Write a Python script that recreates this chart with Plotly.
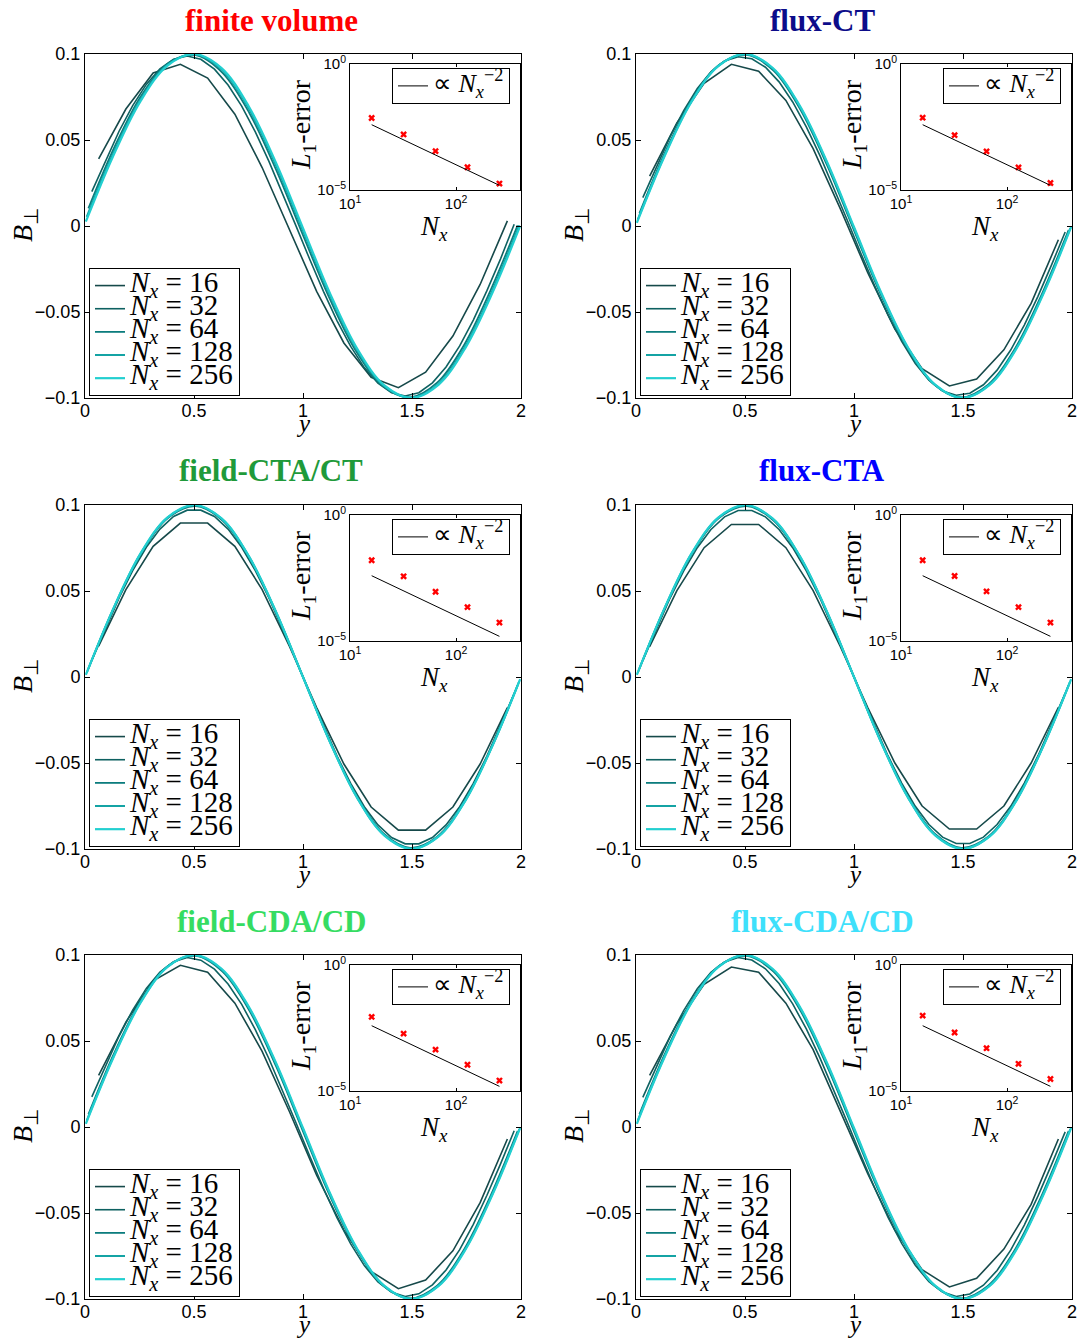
import numpy as np
import plotly.graph_objects as go

# ---------------------------------------------------------------- data
NX = [16, 32, 64, 128, 256]

X_TICKS = [0, 0.5, 1, 1.5, 2]
X_TICK_TEXT = ["0", "0.5", "1", "1.5", "2"]
Y_TICKS = [-0.1, -0.05, 0, 0.05, 0.1]
Y_TICK_TEXT = ["\u22120.1", "\u22120.05", "0", "0.05", "0.1"]

PANEL_TITLES = ["finite volume", "flux-CT", "field-CTA/CT",
                "flux-CTA", "field-CDA/CD", "flux-CDA/CD"]

# B_perp(y) profiles.  Nx = 16 and 32 are given at every cell centre;
# the finer runs are given as 17 samples spanning first to last cell centre.
FV_16 = [0.039, 0.068, 0.089, 0.094, 0.086, 0.065, 0.034, -0.002,
         -0.038, -0.068, -0.088, -0.094, -0.085, -0.064, -0.034, 0.003]
FV_32 = [0.0200, 0.0380, 0.0551, 0.0700, 0.0823, 0.0914, 0.0969, 0.0988,
         0.0969, 0.0912, 0.0820, 0.0697, 0.0547, 0.0376, 0.0191, -0.0002,
         -0.0195, -0.0380, -0.0551, -0.0700, -0.0823, -0.0914, -0.0969, -0.0988,
         -0.0969, -0.0912, -0.0820, -0.0697, -0.0547, -0.0376, -0.0191, 0.0010]
FV_64 = [0.0102, 0.0468, 0.0765, 0.0949, 0.0993, 0.0890, 0.0657, 0.0326, -0.0053,
         -0.0424, -0.0733, -0.0933, -0.0996, -0.0911, -0.0693, -0.0371, 0.0004]
FV_128 = [0.0053, 0.0428, 0.0738, 0.0939, 0.0998, 0.0908, 0.0682, 0.0353, -0.0028,
          -0.0405, -0.0722, -0.0930, -0.0999, -0.0918, -0.0700, -0.0376, 0.0004]
FV_256 = [0.0025, 0.0404, 0.0722, 0.0931, 0.1000, 0.0918, 0.0696, 0.0370, -0.0012,
          -0.0393, -0.0714, -0.0927, -0.1000, -0.0922, -0.0704, -0.0381, 0.0000]

CT_16 = [0.029, 0.060, 0.083, 0.094, 0.090, 0.073, 0.045, 0.010,
         -0.027, -0.060, -0.083, -0.093, -0.089, -0.072, -0.045, -0.008]
CT_32 = [0.0165, 0.0345, 0.0518, 0.0671, 0.0799, 0.0896, 0.0959, 0.0984,
         0.0972, 0.0923, 0.0838, 0.0721, 0.0576, 0.0409, 0.0226, 0.0035,
         -0.0158, -0.0345, -0.0518, -0.0671, -0.0799, -0.0896, -0.0959, -0.0984,
         -0.0972, -0.0923, -0.0838, -0.0721, -0.0576, -0.0409, -0.0226, -0.0035]
CT_64 = [0.0074, 0.0443, 0.0746, 0.0940, 0.0995, 0.0903, 0.0677, 0.0352, -0.0025,
         -0.0399, -0.0713, -0.0923, -0.0996, -0.0922, -0.0713, -0.0397, -0.0024]
CT_128 = [0.0037, 0.0413, 0.0728, 0.0933, 0.0999, 0.0914, 0.0693, 0.0368, -0.0013,
          -0.0391, -0.0711, -0.0924, -0.0999, -0.0924, -0.0711, -0.0391, -0.0012]
CT_256 = [0.0019, 0.0398, 0.0718, 0.0929, 0.1000, 0.0920, 0.0700, 0.0375, -0.0006,
          -0.0387, -0.0709, -0.0924, -0.1000, -0.0924, -0.0709, -0.0387, -0.0006]

CTA_FIELD_16 = [0.0179, 0.0508, 0.0760, 0.0895, 0.0895, 0.0760, 0.0508, 0.0179,
                -0.0178, -0.0506, -0.0756, -0.0890, -0.0890, -0.0756, -0.0506, -0.0178]
CTA_FIELD_32 = [0.0096, 0.0283, 0.0460, 0.0619, 0.0754, 0.0860, 0.0933, 0.0970,
                0.0970, 0.0933, 0.0860, 0.0754, 0.0619, 0.0460, 0.0283, 0.0096,
                -0.0096, -0.0283, -0.0460, -0.0619, -0.0754, -0.0860, -0.0933, -0.0970,
                -0.0970, -0.0933, -0.0860, -0.0754, -0.0619, -0.0460, -0.0283, -0.0096]
CTA_FLUX_16 = [0.0176, 0.0502, 0.0752, 0.0887, 0.0887, 0.0752, 0.0502, 0.0176,
               -0.0176, -0.0500, -0.0750, -0.0884, -0.0884, -0.0750, -0.0500, -0.0176]
CTA_FLUX_32 = [0.0095, 0.0282, 0.0459, 0.0617, 0.0752, 0.0858, 0.0931, 0.0968,
               0.0968, 0.0931, 0.0858, 0.0752, 0.0617, 0.0459, 0.0282, 0.0095,
               -0.0095, -0.0282, -0.0459, -0.0617, -0.0752, -0.0858, -0.0931, -0.0968,
               -0.0968, -0.0931, -0.0858, -0.0752, -0.0617, -0.0459, -0.0282, -0.0095]
CTA_64 = [0.0049, 0.0419, 0.0728, 0.0928, 0.0993, 0.0910, 0.0693, 0.0374, 0.0,
          -0.0374, -0.0693, -0.0910, -0.0993, -0.0928, -0.0728, -0.0419, -0.0049]
CTA_128 = [0.0024, 0.0402, 0.0719, 0.0928, 0.0998, 0.0919, 0.0701, 0.0379, 0.0,
           -0.0379, -0.0701, -0.0919, -0.0998, -0.0928, -0.0719, -0.0402, -0.0024]
CTA_256 = [0.0012, 0.0393, 0.0714, 0.0927, 0.1000, 0.0922, 0.0704, 0.0381, 0.0,
           -0.0381, -0.0704, -0.0922, -0.1000, -0.0927, -0.0714, -0.0393, -0.0012]

CDA_FIELD_16 = [0.030, 0.061, 0.085, 0.094, 0.090, 0.072, 0.044, 0.009,
                -0.028, -0.060, -0.084, -0.094, -0.089, -0.072, -0.044, -0.007]
CDA_FIELD_32 = [0.0175, 0.0356, 0.0529, 0.0680, 0.0806, 0.0901, 0.0961, 0.0985,
                0.0970, 0.0918, 0.0831, 0.0713, 0.0566, 0.0397, 0.0214, 0.0022,
                -0.0170, -0.0356, -0.0529, -0.0680, -0.0806, -0.0901, -0.0961, -0.0985,
                -0.0970, -0.0918, -0.0831, -0.0713, -0.0566, -0.0397, -0.0214, -0.0022]
CDA_FLUX_16 = [0.030, 0.060, 0.083, 0.093, 0.090, 0.072, 0.045, 0.009,
               -0.027, -0.060, -0.083, -0.093, -0.088, -0.071, -0.045, -0.007]
CDA_FLUX_32 = [0.0172, 0.0352, 0.0525, 0.0677, 0.0804, 0.0899, 0.0960, 0.0985,
               0.0971, 0.0920, 0.0834, 0.0716, 0.0570, 0.0402, 0.0219, 0.0028,
               -0.0165, -0.0352, -0.0525, -0.0677, -0.0804, -0.0899, -0.0960, -0.0985,
               -0.0971, -0.0920, -0.0834, -0.0716, -0.0570, -0.0402, -0.0219, -0.0028]

# L1 errors of each scheme against Nx, and the reference slope
L1_FV = [7.2e-3, 1.6e-3, 3.5e-4, 8.0e-5, 1.8e-5]
L1_FLUX_CT = [7.4e-3, 1.5e-3, 3.4e-4, 7.9e-5, 1.9e-5]
L1_FIELD_CTA = [1.6e-2, 3.7e-3, 9.0e-4, 2.2e-4, 5.4e-5]
L1_FLUX_CTA = [1.6e-2, 3.8e-3, 9.3e-4, 2.2e-4, 5.4e-5]
L1_FIELD_CDA = [8.7e-3, 1.9e-3, 4.4e-4, 1.1e-4, 2.6e-5]
L1_FLUX_CDA = [9.8e-3, 2.1e-3, 5.0e-4, 1.2e-4, 3.0e-5]
REF_NX = [16, 256]
REF_L1 = [3.9e-3, 1.53e-5]

PROFILES = [
    [FV_16, FV_32, FV_64, FV_128, FV_256],
    [CT_16, CT_32, CT_64, CT_128, CT_256],
    [CTA_FIELD_16, CTA_FIELD_32, CTA_64, CTA_128, CTA_256],
    [CTA_FLUX_16, CTA_FLUX_32, CTA_64, CTA_128, CTA_256],
    [CDA_FIELD_16, CDA_FIELD_32, CT_64, CT_128, CT_256],
    [CDA_FLUX_16, CDA_FLUX_32, CT_64, CT_128, CT_256],
]
ERRORS = [L1_FV, L1_FLUX_CT, L1_FIELD_CTA, L1_FLUX_CTA, L1_FIELD_CDA, L1_FLUX_CDA]

# ---------------------------------------------------------------- style
FIG_W, FIG_H = 1082, 1342
SERIF = "Liberation Serif"
SANS = "Liberation Sans"

TITLE_COLORS = ["#ff0000", "#0c0c8a", "#1f9a3a", "#0000ff", "#35dc62", "#3ee0fb"]
LINE_COLORS = ["#16494a", "#0e6161", "#0b7c7d", "#14a3a4", "#22cfd0"]
LINE_WIDTHS = [1.6, 1.6, 1.8, 2.0, 2.2]

# pixel geometry
COL_LEFT = [85, 636]
ROW_TOP = [54, 505, 955]
AX_W, AX_H = 436, 344
INSET_DX, INSET_DY, INSET_W, INSET_H = 265, 10, 170, 126
LEG_DX, LEG_DY = 4, 214
ILEG_DX, ILEG_DY = 307, 14

SPAN = '<span style="font-family:Liberation Serif;font-size:{}px">{}</span>'


def fx(px):
    return px / FIG_W


def fy(py):
    return 1 - py / FIG_H


fig = go.Figure()
annotations = []
layout = {}

for p in range(6):
    row, col = divmod(p, 2)
    left, top = COL_LEFT[col], ROW_TOP[row]
    mi, ii = p + 1, p + 7
    mx, my = ("x", "y") if mi == 1 else (f"x{mi}", f"y{mi}")
    ix, iy = f"x{ii}", f"y{ii}"
    mleg = "legend" if mi == 1 else f"legend{mi}"
    ileg = f"legend{ii}"

    # solution profiles
    for j, n in enumerate(NX):
        vals = PROFILES[p][j]
        if len(vals) == n:
            xs = (np.arange(n) + 0.5) * 2.0 / n
            shape = "linear"
        else:
            xs = np.linspace(1.0 / n, 2.0 - 1.0 / n, len(vals))
            shape = "spline"
        fig.add_trace(go.Scatter(
            x=xs, y=vals, mode="lines",
            line=dict(color=LINE_COLORS[j], width=LINE_WIDTHS[j], shape=shape),
            name=SPAN.format(29, f"<i>N</i><sub><i>x</i></sub> = {n}"),
            xaxis=mx, yaxis=my, legend=mleg, hoverinfo="skip"))

    # convergence inset
    fig.add_trace(go.Scatter(
        x=NX, y=ERRORS[p], mode="markers",
        marker=dict(symbol="x", size=6, color="#ff0000", line=dict(width=0)),
        xaxis=ix, yaxis=iy, showlegend=False, hoverinfo="skip"))
    fig.add_trace(go.Scatter(
        x=REF_NX, y=REF_L1, mode="lines", line=dict(color="black", width=1),
        name=SPAN.format(26, "\u221d <i>N</i><sub><i>x</i></sub><sup>\u22122</sup>"),
        xaxis=ix, yaxis=iy, legend=ileg, hoverinfo="skip"))

    axis_common = dict(showline=True, linecolor="black", linewidth=1, mirror="ticks",
                       ticks="inside", tickcolor="black", showgrid=False, zeroline=False,
                       automargin=False)

    layout["xaxis" if mi == 1 else f"xaxis{mi}"] = dict(
        axis_common, domain=[fx(left), fx(left + AX_W)], range=[0, 2],
        anchor=my, tickvals=X_TICKS, ticktext=X_TICK_TEXT, ticklen=5,
        ticklabelstandoff=-4,
        tickfont=dict(family=SANS, size=18, color="black"))
    layout["yaxis" if mi == 1 else f"yaxis{mi}"] = dict(
        axis_common, domain=[fy(top + AX_H), fy(top)], range=[-0.1, 0.1],
        anchor=mx, tickvals=Y_TICKS, ticktext=Y_TICK_TEXT, ticklen=5,
        tickfont=dict(family=SANS, size=18, color="black"))

    il, it = left + INSET_DX, top + INSET_DY
    layout[f"xaxis{ii}"] = dict(
        axis_common, type="log", domain=[fx(il), fx(il + INSET_W)],
        range=[1, np.log10(400)], anchor=iy, tickvals=[10, 100],
        ticktext=["10<sup>1</sup>", "10<sup>2</sup>"], ticklen=3,
        tickfont=dict(family=SANS, size=15, color="black"))
    layout[f"yaxis{ii}"] = dict(
        axis_common, type="log", domain=[fy(it + INSET_H), fy(it)],
        range=[-5, 0], anchor=ix, tickvals=[1e-5, 1],
        ticktext=["10<sup>\u22125</sup>", "10<sup>0</sup>"], ticklen=3,
        tickfont=dict(family=SANS, size=15, color="black"))

    legend_common = dict(bgcolor="white", bordercolor="black", borderwidth=1,
                         xanchor="left", yanchor="top", itemwidth=30,
                         tracegroupgap=0, traceorder="normal")
    layout[mleg] = dict(legend_common, x=fx(left + LEG_DX), y=fy(top + LEG_DY),
                        font=dict(family=SERIF, size=15.5, color="black"))
    layout[ileg] = dict(legend_common, x=fx(left + ILEG_DX), y=fy(top + ILEG_DY),
                        font=dict(family=SERIF, size=16, color="black"))

    # panel title and axis labels
    annotations += [
        dict(text=f"<b>{PANEL_TITLES[p]}</b>", x=fx(left + 186), y=fy(top - 34),
             font=dict(family=SERIF, size=31, color=TITLE_COLORS[p])),
        dict(text="<i>B</i><sub>\u22a5</sub>", x=fx(left - 61), y=fy(top + 171),
             textangle=-90, font=dict(family=SERIF, size=28, color="black")),
        dict(text="<i>y</i>", x=fx(left + 218), y=fy(top + 385), yanchor="bottom",
             font=dict(family=SERIF, size=25, color="black")),
        dict(text="<i>L</i><sub>1</sub>-error", x=fx(left + 217), y=fy(top + 71),
             textangle=-90, font=dict(family=SERIF, size=28, color="black")),
        dict(text="<i>N</i><sub><i>x</i></sub>", x=fx(left + 349), y=fy(top + 174),
             font=dict(family=SERIF, size=27, color="black")),
    ]

for a in annotations:
    a.setdefault("yanchor", "middle")
    a.update(xref="paper", yref="paper", showarrow=False, xanchor="center")

fig.update_layout(
    width=FIG_W, height=FIG_H,
    margin=dict(l=0, r=0, t=0, b=0, autoexpand=False),
    paper_bgcolor="white", plot_bgcolor="white",
    showlegend=True, annotations=annotations, **layout)

fig.write_html("out.html")
